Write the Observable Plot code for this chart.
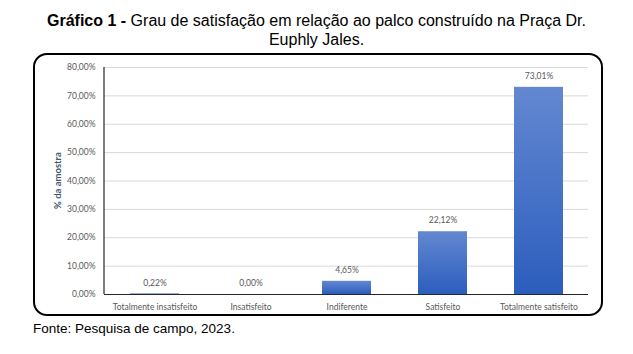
<!DOCTYPE html>
<html>
<head>
<meta charset="utf-8">
<script src="https://cdn.jsdelivr.net/npm/d3@7"></script>
<script src="https://cdn.jsdelivr.net/npm/@observablehq/plot@0.6"></script>
<style>
  html, body { margin: 0; padding: 0; background: #fff; }
  body { width: 633px; height: 354px; position: relative; overflow: hidden; }
  #title { position: absolute; left: 0; top: 11px; width: 633px; text-align: center;
    font-family: "Liberation Sans", Arial, sans-serif; font-size: 16px; line-height: 19px; color: #000; }
  #box { position: absolute; left: 33px; top: 53px; width: 566px; height: 259px;
    border: 2px solid #000; border-radius: 14px; }
  #box svg { position: absolute; left: 0; top: 0; }
  #caption { position: absolute; left: 33px; top: 321px;
    font-family: "Liberation Sans", Arial, sans-serif; font-size: 13.5px; color: #000; }
</style>
</head>
<body>
<div id="title"><b>Gráfico 1 -</b> Grau de satisfação em relação ao palco construído na Praça Dr.<br>Euphly Jales.</div>
<div id="box"></div>
<div id="caption">Fonte: Pesquisa de campo, 2023.</div>
<script>
const categories = ["Totalmente insatisfeito", "Insatisfeito", "Indiferente", "Satisfeito", "Totalmente satisfeito"];
const values = [0.22, 0.00, 4.65, 22.12, 73.01];
const yTicks = [0, 10, 20, 30, 40, 50, 60, 70, 80];
const yLabel = "% da amostra";

const data = categories.map((c, i) => ({category: c, value: values[i]}));
const fmt = v => v.toFixed(2).replace(".", ",") + "%";
const font = "Lato, 'Open Sans', sans-serif";

const plot = Plot.plot({
  width: 566,
  height: 259,
  marginLeft: 69,
  marginRight: 13,
  marginTop: 12,
  marginBottom: 20,
  style: {fontFamily: font, fontSize: "8.5px", color: "#595959", background: "transparent", overflow: "visible"},
  x: {domain: categories, paddingInner: 0.49, paddingOuter: 0.245, label: null},
  y: {domain: [0, 80], label: null},
  marks: [
    Plot.gridY(yTicks, {stroke: "#d9d9d9", strokeOpacity: 1, strokeWidth: 1}),
    Plot.axisY(yTicks, {tickSize: 0, tickPadding: 9, tickFormat: fmt, fill: "#595959", label: null}),
    Plot.axisX({tickSize: 0, tickPadding: 9, fill: "#595959", label: null}),
    Plot.barY(data, {x: "category", y: "value", fill: "url(#barGrad)"}),
    Plot.text(data, {x: "category", y: "value", text: d => fmt(d.value), dy: -11, fill: "#595959", fontSize: 8.5}),
    Plot.ruleY([0], {stroke: "#262626", strokeWidth: 1.2})
  ]
});

// gradient for bars
const svgns = "http://www.w3.org/2000/svg";
const defs = document.createElementNS(svgns, "defs");
const grad = document.createElementNS(svgns, "linearGradient");
grad.setAttribute("id", "barGrad");
grad.setAttribute("x1", "0"); grad.setAttribute("y1", "0");
grad.setAttribute("x2", "0"); grad.setAttribute("y2", "1");
[["0%", "#6388d1"], ["100%", "#2c5dbd"]].forEach(([o, c]) => {
  const s = document.createElementNS(svgns, "stop");
  s.setAttribute("offset", o); s.setAttribute("stop-color", c);
  grad.appendChild(s);
});
defs.appendChild(grad);
plot.insertBefore(defs, plot.firstChild);

// left axis line from the library's scales
const ys = plot.scale("y");
const xs = plot.scale("x");
const xLeft = xs.range[0];
const left = document.createElementNS(svgns, "line");
left.setAttribute("x1", xLeft); left.setAttribute("x2", xLeft);
left.setAttribute("y1", ys.apply(80)); left.setAttribute("y2", ys.apply(0));
left.setAttribute("stroke", "#262626"); left.setAttribute("stroke-width", 1.2);
plot.appendChild(left);

// y-axis title
const t = document.createElementNS(svgns, "text");
const cy = (ys.apply(80) + ys.apply(0)) / 2;
t.setAttribute("transform", `translate(24,${cy}) rotate(-90)`);
t.setAttribute("text-anchor", "middle");
t.setAttribute("dominant-baseline", "middle");
t.setAttribute("font-weight", "bold");
t.setAttribute("font-size", "9.5");
t.setAttribute("font-family", font);
t.setAttribute("fill", "#44546a");
t.textContent = yLabel;
plot.appendChild(t);

document.getElementById("box").appendChild(plot);
</script>
</body>
</html>
